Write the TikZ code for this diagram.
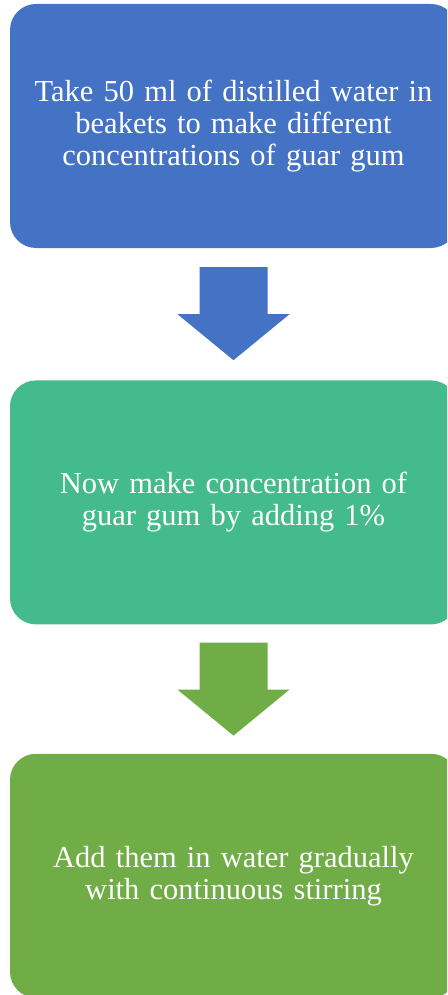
\documentclass[tikz,border=0pt]{standalone}
\usepackage{fontspec}
\setmainfont{Liberation Serif}
\usepackage{xcolor}
\usetikzlibrary{positioning}

\definecolor{stepblue}{HTML}{4472C4}
\definecolor{stepteal}{HTML}{44BB8C}
\definecolor{stepgreen}{HTML}{70AD47}

\begin{document}
\begin{tikzpicture}[x=1pt, y=1pt, node distance=132pt,
  block/.style={rectangle, rounded corners=26pt, text=white, minimum width=447pt, minimum height=244pt, text width=440pt, align=center, inner sep=0pt, font=\fontsize{30.5}{32}\selectfont}]

\useasboundingbox (0,0) rectangle (447,-995);
\clip (0,0) rectangle (447,-995);

\node[block, fill=stepblue] (take) at (233.5,-126) {Take 50 ml of distilled water in\\beakets to make different\\concentrations of guar gum};
\node[block, fill=stepteal, below=of take] (conc) {Now make concentration of\\guar gum by adding 1\%};
\node[block, fill=stepgreen, below=129pt of conc] (add) {Add them in water gradually\\with continuous stirring};

% block arrows between the steps
\fill[stepblue] ([xshift=-34pt,yshift=-19pt]take.south) -- ++(68,0) -- ++(0,-47) -- ++(22,0)
  -- ([yshift=20pt]conc.north) -- ([xshift=-56pt,yshift=-66pt]take.south) -- ++(22,0) -- cycle;
\fill[stepgreen] ([xshift=-34pt,yshift=-18pt]conc.south) -- ++(68,0) -- ++(0,-47) -- ++(22,0)
  -- ([yshift=18pt]add.north) -- ([xshift=-56pt,yshift=-65pt]conc.south) -- ++(22,0) -- cycle;
\end{tikzpicture}
\end{document}
